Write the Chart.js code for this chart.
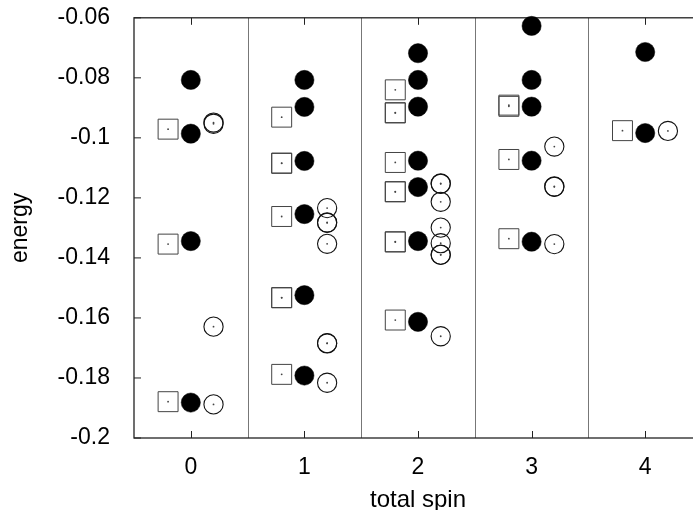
<!DOCTYPE html>
<html><head><meta charset="utf-8">
<style>html,body{margin:0;padding:0;background:#fff;overflow:hidden;width:693px;height:510px}canvas{display:block;margin-top:-12px}</style>
<script src="https://cdn.jsdelivr.net/npm/chart.js@4/dist/chart.umd.min.js"></script>
</head><body>
<canvas id="c" width="720" height="522"></canvas>
<script>
// ---- data ----
const spins = [0, 1, 2, 3, 4];
const spinLabels = ['0', '1', '2', '3', '4'];
const separators = [0.5, 1.5, 2.5, 3.5];
const yTickValues = [-0.2, -0.18, -0.16, -0.14, -0.12, -0.1, -0.08, -0.06];
const yTickLabels = ['-0.2', '-0.18', '-0.16', '-0.14', '-0.12', '-0.1', '-0.08', '-0.06'];

// open squares (per total spin)
const squares0 = [-0.0971, -0.1354, -0.1879];
const squares1 = [-0.0931, -0.1084, -0.1085, -0.1262, -0.1532, -0.1533, -0.1788];
const squares2 = [-0.0840, -0.0916, -0.0917, -0.1082, -0.1179, -0.1180, -0.1346, -0.1347, -0.1607];
const squares3 = [-0.0891, -0.0895, -0.1072, -0.1336];
const squares4 = [-0.0976];

// filled circles
const filled0 = [-0.0807, -0.0986, -0.1344, -0.1882];
const filled1 = [-0.0807, -0.0897, -0.1077, -0.1254, -0.1524, -0.1792];
const filled2 = [-0.0718, -0.0807, -0.0896, -0.1076, -0.1164, -0.1344, -0.1613];
const filled3 = [-0.0627, -0.0807, -0.0896, -0.1076, -0.1346];
const filled4 = [-0.0714, -0.0984];

// open circles
const open0 = [-0.0949, -0.0953, -0.1629, -0.1888];
const open1 = [-0.1234, -0.1282, -0.1283, -0.1353, -0.1684, -0.1685, -0.1816];
const open2 = [-0.1152, -0.1153, -0.1213, -0.1299, -0.1351, -0.1389, -0.1390, -0.1661];
const open3 = [-0.1029, -0.1162, -0.1163, -0.1354];
const open4 = [-0.0977];

const squareSeries = [squares0, squares1, squares2, squares3, squares4];
const filledSeries = [filled0, filled1, filled2, filled3, filled4];
const openSeries = [open0, open1, open2, open3, open4];

function toPoints(series, offset) {
  return series.flatMap((arr, i) => arr.map(e => ({ x: spins[i] + offset, y: e })));
}
const sqPts = toPoints(squareSeries, -0.2);
const fiPts = toPoints(filledSeries, 0);
const opPts = toPoints(openSeries, 0.2);

const FONT = 'Liberation Sans, Arial, sans-serif';

function line(ctx, x1, y1, x2, y2) { ctx.beginPath(); ctx.moveTo(x1, y1); ctx.lineTo(x2, y2); ctx.stroke(); }

const framePlugin = {
  id: 'frame',
  beforeDatasetsDraw(chart) {
    const { ctx, chartArea: a, scales: { x, y } } = chart;
    ctx.save();
    ctx.strokeStyle = '#777';
    ctx.lineWidth = 1;
    separators.forEach(v => { const px = Math.round(x.getPixelForValue(v)) + 0.5; line(ctx, px, a.top, px, a.bottom); });
    ctx.strokeStyle = '#222';
    ctx.lineWidth = 1.3;
    ctx.strokeRect(a.left, a.top, a.right - a.left, a.bottom - a.top);
    ctx.lineWidth = 1;
    yTickValues.forEach(v => { const py = y.getPixelForValue(v); line(ctx, a.left, py, a.left + 7, py); line(ctx, a.right - 7, py, a.right, py); });
    spins.forEach(v => { const px = Math.round(x.getPixelForValue(v)) + 0.5; line(ctx, px, a.bottom, px, a.bottom - 7); line(ctx, px, a.top, px, a.top + 7); });
    ctx.restore();
  }
};

const dotStyle = { pointStyle: 'circle', pointRadius: 0.9, pointBackgroundColor: '#444', pointBorderWidth: 0, clip: false };

new Chart(document.getElementById('c'), {
  type: 'scatter',
  data: {
    datasets: [
      Object.assign({ label: 'sqdot', data: sqPts }, dotStyle),
      Object.assign({ label: 'opdot', data: opPts }, dotStyle),
      { label: 'open circles', data: opPts, pointStyle: 'circle', pointRadius: 9.6, pointBorderWidth: 1.1, pointBorderColor: '#111', pointBackgroundColor: 'rgba(0,0,0,0)', clip: false },
      { label: 'filled circles', data: fiPts, pointStyle: 'circle', pointRadius: 9.6, pointBorderWidth: 0.5, pointBorderColor: '#000', pointBackgroundColor: '#000', clip: false },
      { label: 'squares', data: sqPts, pointStyle: 'rect', pointRadius: 14.1, pointBorderWidth: 1, pointBorderColor: '#444', pointBackgroundColor: 'rgba(0,0,0,0)', clip: false }
    ]
  },
  options: {
    responsive: false,
    animation: false,
    events: [],
    layout: { padding: { top: 4, right: 18, left: 0, bottom: 0 } },
    plugins: { legend: { display: false }, tooltip: { enabled: false } },
    scales: {
      x: {
        type: 'linear', min: -0.5, max: 4.5,
        afterBuildTicks: s => { s.ticks = spins.map(v => ({ value: v })); },
        afterFit: s => { s.height = 72; },
        grid: { display: false },
        border: { display: false },
        ticks: { autoSkip: false, maxRotation: 0, padding: 8, color: '#000', font: { family: FONT, size: 23 },
          callback: (v) => spinLabels[spins.indexOf(v)] },
        title: { display: true, text: 'total spin', color: '#000', font: { family: FONT, size: 24 }, padding: { top: 0, bottom: -5 } }
      },
      y: {
        type: 'linear', min: -0.2, max: -0.06,
        afterBuildTicks: s => { s.ticks = yTickValues.map(v => ({ value: v })); },
        afterFit: s => { s.width = 134; },
        grid: { display: false },
        border: { display: false },
        ticks: { autoSkip: false, padding: 16, color: '#000', font: { family: FONT, size: 23 },
          callback: (v, i) => yTickLabels[i] },
        title: { display: true, text: 'energy', color: '#000', font: { family: FONT, size: 23 }, padding: { top: 7, bottom: 0 } }
      }
    }
  },
  plugins: [framePlugin]
});
</script>
</body></html>
